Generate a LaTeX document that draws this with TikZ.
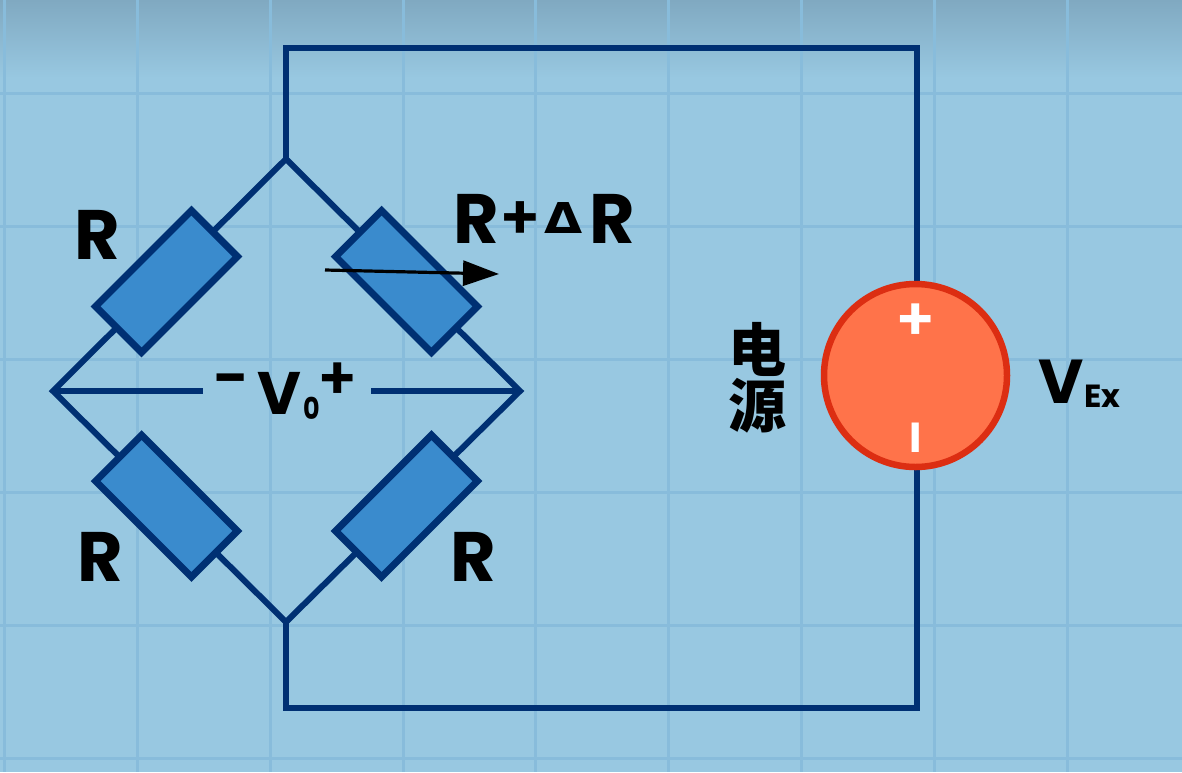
\documentclass[tikz,border=0pt]{standalone}
\usepackage{fontspec}
\usepackage{graphicx}
\setmainfont{Poppins}
\newfontfamily\popb{Poppins}[UprightFont=* Bold,BoldFont=* Bold]
\newfontfamily\popr{Poppins}[UprightFont=* SemiBold]
\newfontfamily\cjkb{Noto Sans CJK SC Black}
\newfontfamily\dejab{DejaVu Sans}[UprightFont=* Bold]
\usetikzlibrary{arrows.meta}
\definecolor{bgmain}{HTML}{98C8E1}
\definecolor{bgtop}{HTML}{80A9C1}
\definecolor{gridc}{HTML}{88BCDB}
\definecolor{wire}{HTML}{003073}
\definecolor{resfill}{HTML}{3A8BCD}
\definecolor{srcfill}{HTML}{FF734A}
\definecolor{srcline}{HTML}{DC2E12}
\tikzset{
  x=1pt,y=-1pt,
  wireline/.style={draw=wire,line width=6pt,line join=miter},
  resbox/.style={draw=wire,fill=resfill,line width=7pt,minimum width=135.5pt,minimum height=65pt,inner sep=0pt,outer sep=0pt},
  source/.style={circle,draw=srcline,fill=srcfill,line width=6.5pt,minimum size=183pt,inner sep=0pt,outer sep=0pt},
  lab/.style={inner sep=0pt,outer sep=0pt,text=black,font=\popb\fontsize{70}{70}\selectfont},
  gridline/.style={draw=gridc,line width=3pt}
}
\begin{document}
\begin{tikzpicture}
\useasboundingbox (0,0) rectangle (1182,772);
\fill[bgmain] (0,0) rectangle (1182,772);
\shade[top color=bgtop,bottom color=bgmain] (0,0) rectangle (1182,78);
\foreach \gx in {4,137,270,403,535,668,801,934,1067} \draw[gridline] (\gx,0) -- (\gx,772);
\foreach \gy in {93,226,359,492,625,758} \draw[gridline] (0,\gy) -- (1182,\gy);
% junctions
\coordinate (top) at (286,159);
\coordinate (left) at (53,391);
\coordinate (right) at (520,391);
\coordinate (bot) at (286,622);
\coordinate (c1) at (286,48);
\coordinate (c2) at (917,48);
\coordinate (c3) at (917,708);
\coordinate (c4) at (286,708);
\coordinate (src) at (915.5,375.5);
\coordinate (vl) at (203,391);
\coordinate (vr) at (371,391);
% wires
\draw[wireline] (top) -- (left) -- (bot) -- (right) -- cycle;
\draw[wireline] (left) -- (vl);
\draw[wireline] (right) -- (vr);
\draw[wireline] (top) -- (c1) -- (c2) -- (c3) -- (c4) -- (bot);
% resistors
\node[resbox,rotate=45] (r1) at (166.5,281.5) {};
\node[resbox,rotate=-45] (r2) at (406.5,281.5) {};
\node[resbox,rotate=-45] (r3) at (166.5,506) {};
\node[resbox,rotate=45] (r4) at (406.5,506) {};
% source
\node[source] (vs) at (src) {};
\node[inner sep=0pt,text=white,font=\fontsize{60}{60}\selectfont\popr] (plus) at (916,322) {+};
\node[inner sep=0pt,text=white,font=\fontsize{42}{42}\selectfont\popb] (minus) at (916,438) {I};
% arrow
\coordinate (as) at (325,270);
\coordinate (ae) at (499,274);
\draw[black,line width=3.2pt,-{Triangle[length=36pt,width=25pt]}] (as) -- (ae);
% labels
\node[lab] (l1) at (97,235) {R};
\node[lab] (l3) at (100,557) {R};
\node[lab] (l4) at (473,557) {R};
\node[lab,anchor=base west] (l2) at (453,243) {R\kern1pt\raisebox{4pt}{\popr\fontsize{62}{62}\selectfont +}\kern3pt\raisebox{10pt}{\dejab\fontsize{34}{34}\selectfont\scalebox{1.45}[1.25]{Δ}}\kern7pt R};
\node[lab,anchor=base west,font=\popb\fontsize{60}{60}\selectfont] (v0) at (257,414) {V};
\node[inner sep=0pt,anchor=base,font=\popb\fontsize{30}{30}\selectfont] (v0s) at (311.5,419) {\scalebox{.85}[1]{0}};
\node[lab,font=\popr\fontsize{64}{64}\selectfont] (vm) at (231,387) {−};
\node[lab,font=\popr\fontsize{60}{60}\selectfont] (vp) at (337.5,381) {+};
\node[lab,anchor=base west,font=\popb\fontsize{62}{62}\selectfont] (ve) at (1038,403) {V};
\node[lab,anchor=base west,font=\popb\fontsize{32}{32}\selectfont] (vex) at (1084,407) {Ex};
\node[lab,font=\cjkb\fontsize{58}{58}\selectfont] (d1) at (757,349) {电};
\node[lab,font=\cjkb\fontsize{58}{58}\selectfont] (d2) at (757,406) {源};
\end{tikzpicture}
\end{document}
